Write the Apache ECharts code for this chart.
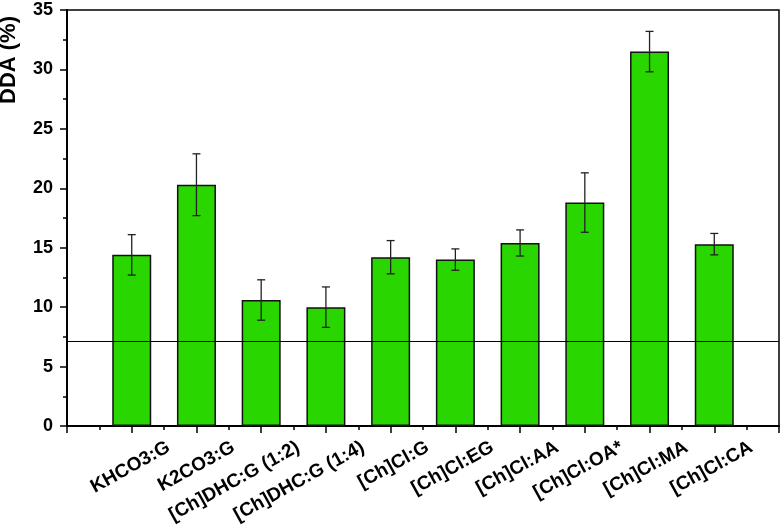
<!DOCTYPE html>
<html><head><meta charset="utf-8">
<script src="https://cdn.jsdelivr.net/npm/echarts@6/dist/echarts.min.js"></script>
<style>html,body{margin:0;padding:0;background:#fff}#c{width:780px;height:526px}</style>
</head><body><div id="c"></div>
<script>
const categories = ['KHCO3:G','K2CO3:G','[Ch]DHC:G (1:2)','[Ch]DHC:G (1:4)','[Ch]Cl:G','[Ch]Cl:EG','[Ch]Cl:AA','[Ch]Cl:OA*','[Ch]Cl:MA','[Ch]Cl:CA'];
const values = [14.4, 20.3, 10.6, 10.0, 14.2, 14.0, 15.4, 18.8, 31.5, 15.3];
const errors = [1.7, 2.6, 1.7, 1.7, 1.4, 0.9, 1.1, 2.5, 1.7, 0.9];
const refLine = 7.1;
const yTicks = {min: 0, max: 35, interval: 5};

const font = '"Liberation Sans", Arial, sans-serif';
const barData = values.map((v, i) => [i + 1, v]);
const errData = values.map((v, i) => [i + 1, v - errors[i], v + errors[i]]);
const labelFor = v => (Number.isInteger(v) && v >= 1 && v <= categories.length) ? categories[v - 1] : '';

const chart = echarts.init(document.getElementById('c'), null, {renderer: 'canvas'});
chart.setOption({
  animation: false,
  backgroundColor: '#fff',
  grid: [
    {left: 67, right: 1, top: 10, bottom: 100, show: true, borderColor: '#000', borderWidth: 1.5, backgroundColor: 'transparent', containLabel: false, outerBoundsMode: 'none'},
    {left: 104, right: -36, top: 10, bottom: 100, show: false, containLabel: false, outerBoundsMode: 'none'}
  ],
  xAxis: [
    {
      type: 'value', gridIndex: 0, min: 0, max: categories.length + 1, interval: 1,
      axisLine: {show: true, onZero: false, lineStyle: {color: '#000', width: 2}},
      axisTick: {show: true, length: 7, lineStyle: {color: '#000', width: 1.5}},
      minorTick: {show: true, splitNumber: 2, length: 4, lineStyle: {color: '#000', width: 1.5}},
      axisLabel: {show: false},
      splitLine: {show: false}
    },
    {
      type: 'value', gridIndex: 1, min: 0, max: categories.length + 1, interval: 1,
      axisLine: {show: false}, axisTick: {show: false}, splitLine: {show: false},
      axisLabel: {
        show: true, rotate: 29, margin: 20, formatter: labelFor,
        color: '#000', fontFamily: font, fontWeight: 'bold', fontSize: 19
      }
    }
  ],
  yAxis: [
    {
      type: 'value', gridIndex: 0, min: yTicks.min, max: yTicks.max, interval: yTicks.interval,
      name: 'DDA (%)', nameLocation: 'middle', nameGap: 58,
      nameTextStyle: {color: '#000', fontFamily: font, fontWeight: 'bold', fontSize: 22,
        align: 'center', verticalAlign: 'middle', padding: [0, 0, 0, 316]},
      axisLine: {show: true, lineStyle: {color: '#000', width: 2}},
      axisTick: {show: true, length: 7, lineStyle: {color: '#000', width: 1.5}},
      minorTick: {show: true, splitNumber: 2, length: 4, lineStyle: {color: '#000', width: 1.5}},
      axisLabel: {color: '#000', fontFamily: font, fontWeight: 'bold', fontSize: 18, margin: 14},
      splitLine: {show: false}
    },
    {type: 'value', gridIndex: 1, min: 0, max: 35, show: false}
  ],
  series: [
    {
      type: 'bar', xAxisIndex: 0, yAxisIndex: 0, data: barData, barWidth: 39,
      itemStyle: {color: '#29d600', borderColor: '#111', borderWidth: 1.5},
      markLine: {
        silent: true, symbol: 'none', label: {show: false},
        lineStyle: {color: '#000', width: 1, type: 'solid'},
        data: [{yAxis: refLine}]
      },
      z: 2
    },
    {
      type: 'custom', xAxisIndex: 0, yAxisIndex: 0, data: errData, z: 5,
      renderItem: function (params, api) {
        const x = api.value(0);
        const lo = api.coord([x, api.value(1)]);
        const hi = api.coord([x, api.value(2)]);
        const w = 4;
        const st = {stroke: '#222', lineWidth: 1.3};
        return {type: 'group', children: [
          {type: 'line', shape: {x1: lo[0], y1: lo[1], x2: hi[0], y2: hi[1]}, style: st},
          {type: 'line', shape: {x1: hi[0] - w, y1: hi[1], x2: hi[0] + w, y2: hi[1]}, style: st},
          {type: 'line', shape: {x1: lo[0] - w, y1: lo[1], x2: lo[0] + w, y2: lo[1]}, style: st}
        ]};
      }
    }
  ]
});
</script>
</body></html>
